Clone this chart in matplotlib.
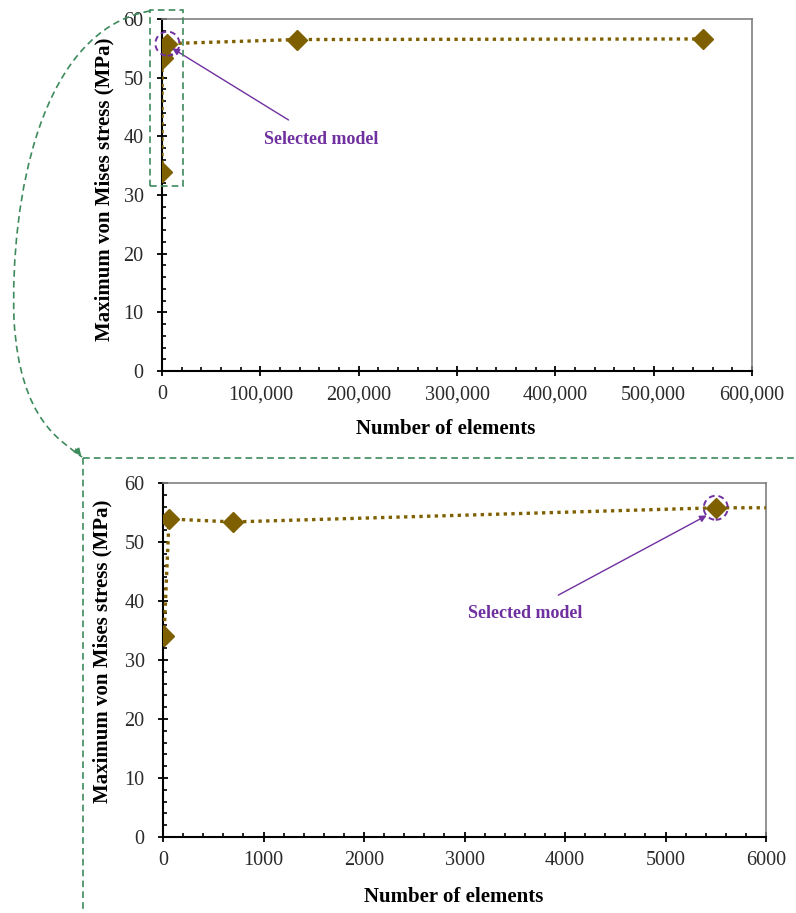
import matplotlib
matplotlib.use("Agg")
import matplotlib.pyplot as plt
from matplotlib.ticker import FuncFormatter, MultipleLocator
from matplotlib.patches import Circle, Rectangle, FancyArrowPatch, Path, PathPatch
from matplotlib.transforms import ScaledTranslation
from matplotlib.lines import Line2D

# ---- data ----
elements = [10, 60, 700, 5500, 137000, 550000]
stress = [34.0, 53.9, 53.4, 55.8, 56.5, 56.6]
selected_elements = 5500
selected_stress = 55.8
annotation_text = "Selected model"
xlabel = "Number of elements"
ylabel = "Maximum von Mises stress (MPa)"

plt.rcParams['font.family'] = ['Liberation Serif', 'DejaVu Serif']

W, H = 796, 913
fig = plt.figure(figsize=(W / 100, H / 100), dpi=100)

LINE_COLOR = '#7f6000'
PURPLE = '#7030a0'
GREEN = '#3d8a5c'


def px(x, y):
    return (x / W, 1 - y / H)


def style_axes(ax):
    ax.spines['left'].set_color('black')
    ax.spines['left'].set_linewidth(1.5)
    ax.spines['bottom'].set_color('black')
    ax.spines['bottom'].set_linewidth(1.5)
    for s in ('top', 'right'):
        ax.spines[s].set_color('#808080')
        ax.spines[s].set_linewidth(1.2)
    ax.tick_params(which='major', direction='inout', length=6.5, width=1.3,
                   labelsize=14.5, colors='black', labelcolor='#2a2a2a')
    ax.tick_params(which='minor', direction='in', length=3.2, width=1.2)
    ax.tick_params(axis='y', which='major', pad=10)
    ax.tick_params(axis='x', which='major', pad=7)
    ax.set_ylim(0, 60)
    ax.yaxis.set_major_locator(MultipleLocator(10))
    ax.yaxis.set_minor_locator(MultipleLocator(2))
    ax.set_ylabel(ylabel, fontsize=15, fontweight='bold')
    ax.set_xlabel(xlabel, fontsize=15, fontweight='bold')


def plot_series(ax):
    ax.plot(elements, stress, color=LINE_COLOR, linewidth=2.4,
            linestyle=(0, (1.0, 1.3)), dash_capstyle='butt',
            marker='D', markersize=10.5, markerfacecolor=LINE_COLOR,
            markeredgecolor=LINE_COLOR, zorder=3)


def circle_at(ax, x, y, r_in=0.12):
    tr = fig.dpi_scale_trans + ScaledTranslation(x, y, ax.transData)
    c = Circle((0, 0), radius=r_in, transform=tr, fill=False,
               edgecolor=PURPLE, linestyle=(0, (3, 2)), linewidth=1.4,
               clip_on=False, zorder=4)
    fig.add_artist(c)


# ---- top axes ----
ax1 = fig.add_axes([162 / W, 1 - 371 / H, (752 - 162) / W, (371 - 19) / H])
plot_series(ax1)
ax1.set_xlim(0, 600000)
ax1.xaxis.set_major_locator(MultipleLocator(100000))
ax1.xaxis.set_minor_locator(MultipleLocator(20000))
ax1.xaxis.set_major_formatter(FuncFormatter(lambda v, p: f"{v:,.0f}"))
style_axes(ax1)
ax1.yaxis.set_label_coords(-0.081, 0.517)
ax1.xaxis.set_label_coords(0.48, -0.135)
circle_at(ax1, selected_elements, selected_stress)
ax1.annotate(annotation_text, xy=(selected_elements + 5000, selected_stress - 0.8),
             xytext=px(321, 140), textcoords='figure fraction',
             ha='center', va='center', fontsize=13, fontweight='bold', color=PURPLE,
             arrowprops=dict(arrowstyle='-|>', color=PURPLE, lw=1.0,
                             mutation_scale=10, shrinkA=12, shrinkB=0))
# dashed zoom box
ax1.add_patch(Rectangle((-12200, 31.5), 33600, 30.0, fill=False, edgecolor=GREEN,
                        linestyle=(0, (4, 2.5)), linewidth=1.2, clip_on=False, zorder=5))

# ---- bottom axes ----
ax2 = fig.add_axes([163 / W, 1 - 837 / H, (766 - 163) / W, (837 - 483) / H])
plot_series(ax2)
ax2.set_xlim(0, 6000)
ax2.xaxis.set_major_locator(MultipleLocator(1000))
ax2.xaxis.set_minor_locator(MultipleLocator(200))
style_axes(ax2)
ax2.yaxis.set_label_coords(-0.083, 0.525)
ax2.xaxis.set_label_coords(0.4826, -0.142)
circle_at(ax2, selected_elements, selected_stress)
ax2.annotate(annotation_text, xy=(selected_elements - 90, selected_stress - 1.3),
             xytext=px(525, 613), textcoords='figure fraction',
             ha='center', va='center', fontsize=13, fontweight='bold', color=PURPLE,
             arrowprops=dict(arrowstyle='-|>', color=PURPLE, lw=1.0,
                             mutation_scale=10, shrinkA=10, shrinkB=0))

# ---- connecting dashed guides (figure coords) ----
tf = fig.transFigure
verts = [px(150, 11), px(40, 30), px(10, 200), px(14, 320), px(20, 420), px(60, 440), px(82, 457)]
codes = [Path.MOVETO, Path.CURVE4, Path.CURVE4, Path.CURVE4, Path.CURVE4, Path.CURVE4, Path.CURVE4]
curve = PathPatch(Path(verts, codes), transform=tf, fill=False, edgecolor=GREEN,
                  linestyle=(0, (4, 2.5)), linewidth=1.2)
fig.add_artist(curve)
arr = FancyArrowPatch(px(74, 447), px(83, 458), transform=tf, arrowstyle='-|>',
                      mutation_scale=10, color=GREEN, lw=1.2)
fig.add_artist(arr)
fig.add_artist(Line2D([px(83, 0)[0], 1.0], [px(0, 458)[1]] * 2, transform=tf,
                      color=GREEN, linestyle=(0, (4, 2.5)), linewidth=1.2))
fig.add_artist(Line2D([px(83, 0)[0]] * 2, [px(0, 458)[1], 0.0], transform=tf,
                      color=GREEN, linestyle=(0, (4, 2.5)), linewidth=1.2))

fig.savefig("out.png", dpi=100)
